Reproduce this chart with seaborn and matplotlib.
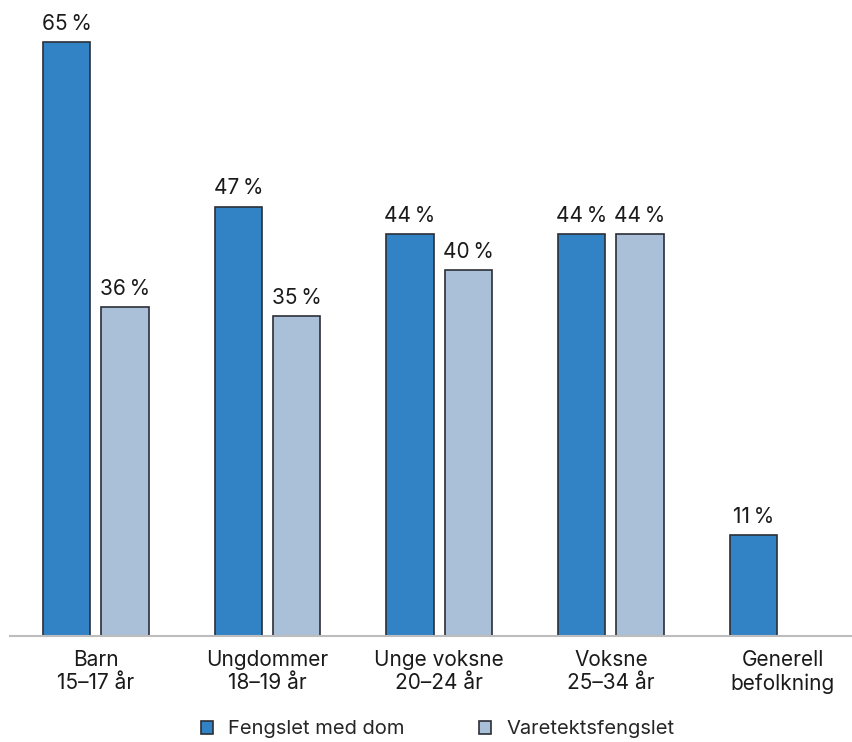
import pandas as pd
import seaborn as sns
import matplotlib.pyplot as plt

categories = ["Barn\n15–17 år", "Ungdommer\n18–19 år", "Unge voksne\n20–24 år",
              "Voksne\n25–34 år", "Generell\nbefolkning"]
med_dom = [65, 47, 44, 44, 11]
varetekt = [36, 35, 40, 44]
series = ["Fengslet med dom", "Varetektsfengslet"]

rows = []
for cat, v in zip(categories, med_dom):
    rows.append({"gruppe": cat, "type": series[0], "andel": v})
for cat, v in zip(categories, varetekt):
    rows.append({"gruppe": cat, "type": series[1], "andel": v})
df = pd.DataFrame(rows)

sns.set_style("white")
plt.rcParams["font.family"] = ["Inter", "DejaVu Sans"]

fig = plt.figure(figsize=(8.53, 7.42), dpi=100)
ax = fig.add_axes([10 / 853, 106 / 742, 843 / 853, 636 / 742])

palette = {series[0]: "#3183c6", series[1]: "#aabfd8"}
sns.barplot(data=df, x="gruppe", y="andel", hue="type", order=categories,
            hue_order=series, palette=palette, width=0.68, gap=0.19,
            edgecolor="#2b2f36", linewidth=1.2, errorbar=None, ax=ax,
            saturation=1)

for container in ax.containers:
    labels = [f"{h:.0f}\u202f%" if h == h else "" for h in container.datavalues]
    ax.bar_label(container, labels=labels, padding=6, fontsize=15,
                 color="#1a1a1a")

ax.set_xlim(-0.5, 4.41)
ax.set_ylim(0, 69.6)
ax.set_xlabel("")
ax.set_ylabel("")
ax.set_yticks([])
ax.tick_params(axis="x", length=0, pad=10, labelsize=15, colors="#1a1a1a")
for s in ["top", "right", "left"]:
    ax.spines[s].set_visible(False)
ax.spines["bottom"].set_color("#bdbdbd")
ax.spines["bottom"].set_linewidth(1.5)

ax.legend(loc="upper center", bbox_to_anchor=(0.507, -0.104), ncol=2,
          frameon=False, fontsize=14.5, handlelength=0.6, handleheight=0.6,
          handletextpad=0.75, columnspacing=3.7)

fig.savefig("out.png", dpi=100)
